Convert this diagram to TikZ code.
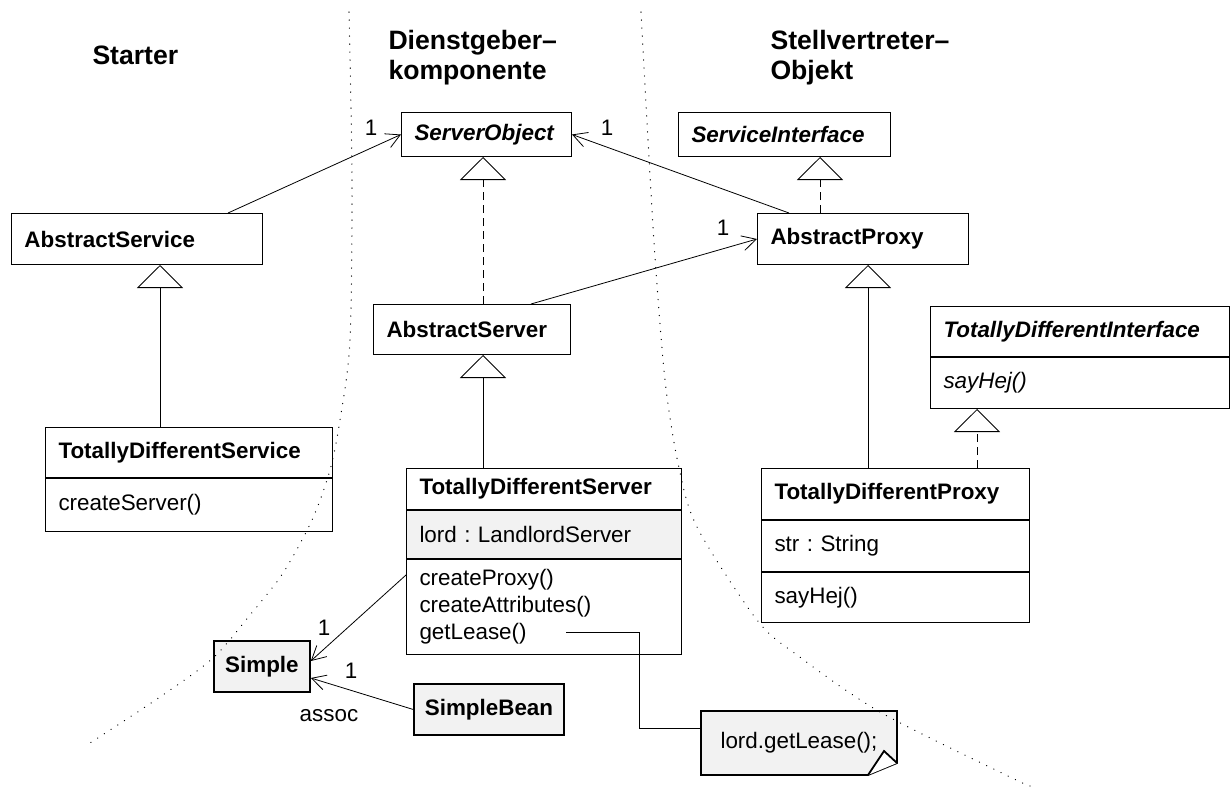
\documentclass[tikz,border=0pt]{standalone}
\usepackage{fontspec}
\setmainfont{Liberation Sans}
\usetikzlibrary{arrows.meta}
\usetikzlibrary{backgrounds}

\begin{document}
\frenchspacing
\fontsize{11.2}{13.5}\selectfont
\begin{tikzpicture}[x=0.5pt,y=-0.5pt,line width=0.5pt,>={Straight Barb[length=7pt,width=7.5pt]},
    class node/.style={draw,anchor=north west,inner xsep=6.5pt,inner ysep=0pt,align=left,font=\bfseries},
    part node/.style={class node,font=\mdseries},
    gray node/.style={draw,fill=black!5,line width=0.9pt,anchor=north west,inner xsep=5.5pt,inner ysep=0pt,font=\bfseries},
    note node/.style={anchor=north west,inner sep=0pt},
    head node/.style={anchor=west,align=left,inner sep=0pt,font=\fontsize{13.3}{15}\selectfont\bfseries},
    mult node/.style={inner sep=0pt},
    gen/.style={-{Triangle[open,length=11.5pt,width=23pt]}},
    real/.style={gen,dash pattern=on 4pt off 2.5pt},
    zone/.style={line width=0.6pt,dash pattern=on 0.1pt off 3.9pt,line cap=round}]
   \useasboundingbox (0,0) rectangle (1231,787);
   % column heads
   \node[head node] (starter) at (92,55) {Starter};
   \node[head node] (dienst) at (388,58) {Dienstgeber–\\komponente};
   \node[head node] (stell) at (770,58) {Stellvertreter–\\Objekt};
   % starter
   \node[class node,text width=112.5pt,minimum height=25.5pt] (as) at (11,213) {AbstractService};
   \node[class node,text width=130.5pt,minimum height=25pt] (tdsvname) at (45,427) {TotallyDifferentService};
   \node[part node,text width=130.5pt,minimum height=26.5pt] (tdsvops) at (tdsvname.south west) {createServer()};
   % server
   \node[class node,text width=72pt,minimum height=22pt,font=\bfseries\itshape] (so) at (401,112) {ServerObject};
   \node[class node,text width=85.5pt,minimum height=25pt] (asv) at (373,304) {AbstractServer};
   \node[class node,text width=124.5pt,minimum height=20.5pt] (tdsrname) at (406,468) {TotallyDifferentServer};
   \node[part node,fill=black!5,text width=124.5pt,minimum height=24pt] (tdsrattr) at (tdsrname.south west) {lord : LandlordServer};
   \node[part node,text width=124.5pt,minimum height=47.5pt] (tdsrops) at (tdsrattr.south west) {createProxy()\\createAttributes()\\getLease()};
   % proxy
   \node[class node,text width=93pt,minimum height=22pt,font=\bfseries\itshape] (si) at (678,112) {ServiceInterface};
   \node[class node,text width=92.5pt,minimum height=25.5pt] (ap) at (757,213) {AbstractProxy};
   \node[class node,text width=136.5pt,minimum height=25pt,font=\bfseries\itshape] (tdiname) at (930,306) {TotallyDifferentInterface};
   \node[part node,text width=136.5pt,minimum height=25.5pt,font=\itshape] (tdiops) at (tdiname.south west) {sayHej()};
   \node[class node,text width=121pt,minimum height=25.5pt] (tdpname) at (761,468) {TotallyDifferentProxy};
   \node[part node,text width=121pt,minimum height=25.5pt] (tdpattr) at (tdpname.south west) {str : String};
   \node[part node,text width=121pt,minimum height=25pt] (tdpops) at (tdpattr.south west) {sayHej()};
   % beans and note
   \node[gray node,minimum width=48pt,minimum height=25.5pt] (simple) at (213,640) {Simple};
   \node[gray node,minimum height=25.5pt] (bean) at (413,683) {SimpleBean};
   \node[note node,minimum width=97.5pt,minimum height=31.5pt] (note) at (701,711) {lord.getLease();};
   \begin{pgfonlayer}{background}
     \draw[fill=black!5,line width=0.9pt] (note.north west) -- (note.north east) -- ([yshift=6pt]note.south east)
        -- ([xshift=-14.5pt]note.south east) -- (note.south west) -- cycle;
     \draw[fill=white,line width=0.9pt] ([xshift=-14.5pt]note.south east) -- ([xshift=-6.5pt,yshift=12pt]note.south east)
        -- ([yshift=6pt]note.south east);
   \end{pgfonlayer}
   % generalisation and realisation
   \path[gen] (tdsvname.north -| 160,0) edge (as.south -| 160,0);
   \path[gen] (tdsrname.north -| 483,0) edge (asv.south -| 483,0);
   \path[gen] (tdpname.north -| 868,0) edge (ap.south -| 868,0);
   \path[real] (asv.north -| 483,0) edge (so.south -| 483,0);
   \path[real] (ap.north -| 820,0) edge (si.south -| 820,0);
   \path[real] (tdpname.north -| 977,0) edge (tdiops.south -| 977,0);
   % associations
   \path[->] (as.north -| 228,0) edge (so.west);
   \path[->] (ap.north -| 789,0) edge (so.east);
   \path[->] (asv.north -| 531,0) edge (ap.west);
   \path[->] (tdsrops.west |- 0,575) edge (simple.east |- 0,661);
   \path[->] (bean.west) edge (simple.east |- 0,678);
   \node[mult node] (m1) at (371,128) {1};
   \node[mult node] (m2) at (607,128) {1};
   \node[mult node] (m3) at (723,228) {1};
   \node[mult node] (m4) at (324,628) {1};
   \node[mult node] (m5) at (351,671) {1};
   \node[mult node] (lbl) at (329,716) {assoc};
   % note link
   \coordinate (lease) at (566,632);
   \draw (lease) -| (639,728) -- (note.west |- 0,728);
   % zone borders
   \draw[zone] plot[smooth] coordinates {(349,12) (352,180) (350,340) (340,420) (330,470) (312,520) (283,573)
      (250,615) (213,658) (160,697) (90,743)};
   \draw[zone] plot[smooth] coordinates {(641,12) (648,140) (655,257) (665,380) (678,463) (697,527) (757,620)
      (797,655) (880,712) (1010,777) (1030,786)};
\end{tikzpicture}
\end{document}
